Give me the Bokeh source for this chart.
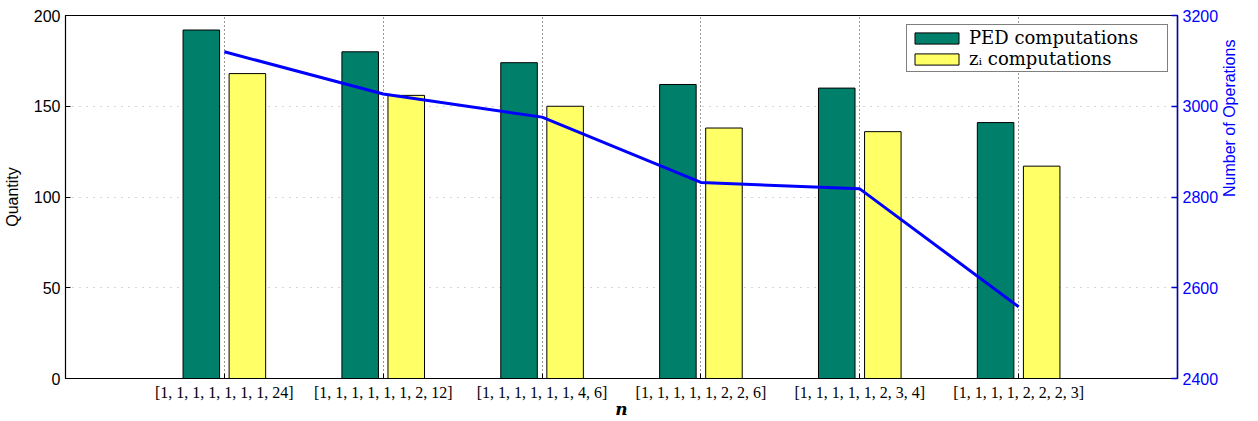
import math
from bokeh.plotting import figure
from bokeh.models import (FactorRange, Range1d, LinearAxis, Legend, LegendItem,
                          ColumnDataSource, FixedTicker)
from bokeh.transform import dodge
from bokeh.embed import file_html
from bokeh.resources import INLINE

categories = ["[1, 1, 1, 1, 1, 1, 1, 24]", "[1, 1, 1, 1, 1, 1, 2, 12]",
              "[1, 1, 1, 1, 1, 1, 4, 6]", "[1, 1, 1, 1, 1, 2, 2, 6]",
              "[1, 1, 1, 1, 1, 2, 3, 4]", "[1, 1, 1, 1, 2, 2, 2, 3]"]
ped = [192, 180, 174, 162, 160, 141]
zi = [168, 156, 150, 138, 136, 117]
ops = [3120, 3027, 2976, 2832, 2818, 2558]

GREEN = "#00806a"
YELLOW = "#ffff66"
BLUE = "#0000ff"

src = ColumnDataSource(dict(cat=categories, ped=ped, zi=zi, ops=ops))

p = figure(width=1258, height=421, output_backend="svg", toolbar_location=None,
           x_range=FactorRange(*categories, range_padding=0.5, range_padding_units="absolute"),
           y_range=Range1d(0, 200),
           min_border_left=65, min_border_right=81, min_border_top=15, min_border_bottom=42)
p.extra_y_ranges = {"ops": Range1d(2400, 3200)}

r1 = p.vbar(x=dodge("cat", -0.145, range=p.x_range), top="ped", width=0.23, source=src,
            fill_color=GREEN, line_color="black", line_width=1)
r2 = p.vbar(x=dodge("cat", 0.145, range=p.x_range), top="zi", width=0.23, source=src,
            fill_color=YELLOW, line_color="black", line_width=1)
p.line(x="cat", y="ops", source=src, y_range_name="ops", line_color=BLUE, line_width=3)

p.outline_line_color = "black"
p.outline_line_width = 1.2

# left axis
ya = p.yaxis[0]
ya.ticker = FixedTicker(ticks=[0, 50, 100, 150, 200])
ya.axis_label = "Quantity"
ya.axis_label_text_font = "Liberation Sans"
ya.axis_label_text_font_style = "normal"
ya.axis_label_text_font_size = "16px"
ya.axis_label_text_color = "black"
ya.axis_label_standoff = 10
ya.major_label_text_font = "Liberation Sans"
ya.major_label_text_font_size = "16px"
ya.major_label_text_color = "black"
ya.major_tick_in = 5
ya.major_tick_out = 0
ya.major_tick_line_color = "black"
ya.minor_tick_line_color = None
ya.major_label_standoff = 5
ya.axis_line_color = "black"

# bottom axis
xa = p.xaxis[0]
xa.major_label_text_font = "Liberation Serif"
xa.major_label_text_font_size = "16px"
xa.major_label_text_color = "black"
xa.major_tick_in = 5
xa.major_tick_out = 0
xa.major_tick_line_color = "black"
xa.major_label_standoff = 5
xa.axis_line_color = "black"
xa.axis_label = "n"
xa.axis_label_text_font = "DejaVu Serif"
xa.axis_label_text_font_style = "bold italic"
xa.axis_label_text_font_size = "17px"
xa.axis_label_text_color = "black"
xa.axis_label_standoff = -5

# right axis
ra = LinearAxis(y_range_name="ops", ticker=FixedTicker(ticks=[2400, 2600, 2800, 3000, 3200]))
ra.axis_label = "Number of Operations"
ra.axis_label_orientation = math.pi / 2
ra.axis_label_text_font = "Liberation Sans"
ra.axis_label_text_font_style = "normal"
ra.axis_label_text_font_size = "16px"
ra.axis_label_text_color = BLUE
ra.axis_label_standoff = 8
ra.major_label_text_font = "Liberation Sans"
ra.major_label_text_font_size = "16px"
ra.major_label_text_color = BLUE
ra.major_label_standoff = 5
ra.axis_line_color = "#0000cc"
ra.axis_line_width = 1.5
ra.major_tick_line_color = "#0000cc"
ra.major_tick_line_width = 1.5
ra.major_tick_in = 6
ra.major_tick_out = 0
ra.minor_tick_line_color = None
p.add_layout(ra, "right")

# grids
p.ygrid.grid_line_color = "#aaaaaa"
p.ygrid.grid_line_dash = "1 6"
p.ygrid.grid_line_width = 1
p.xgrid.grid_line_color = "#333333"
p.xgrid.grid_line_dash = "1 3"
p.xgrid.grid_line_width = 1

legend = Legend(items=[LegendItem(label="PED computations", renderers=[r1]),
                       LegendItem(label="zᵢ computations", renderers=[r2])],
                location="top_right")
legend.margin = 9
legend.padding = 2
legend.spacing = 0
legend.glyph_width = 55
legend.glyph_height = 14
legend.label_height = 20
legend.label_width = 196
legend.label_standoff = 5
legend.label_text_font = "DejaVu Serif"
legend.label_text_font_size = "18px"
legend.label_text_color = "black"
legend.border_line_color = "black"
legend.border_line_width = 1.2
legend.background_fill_alpha = 1
p.add_layout(legend, "center")

open("out.html", "w").write(file_html(p, INLINE))
